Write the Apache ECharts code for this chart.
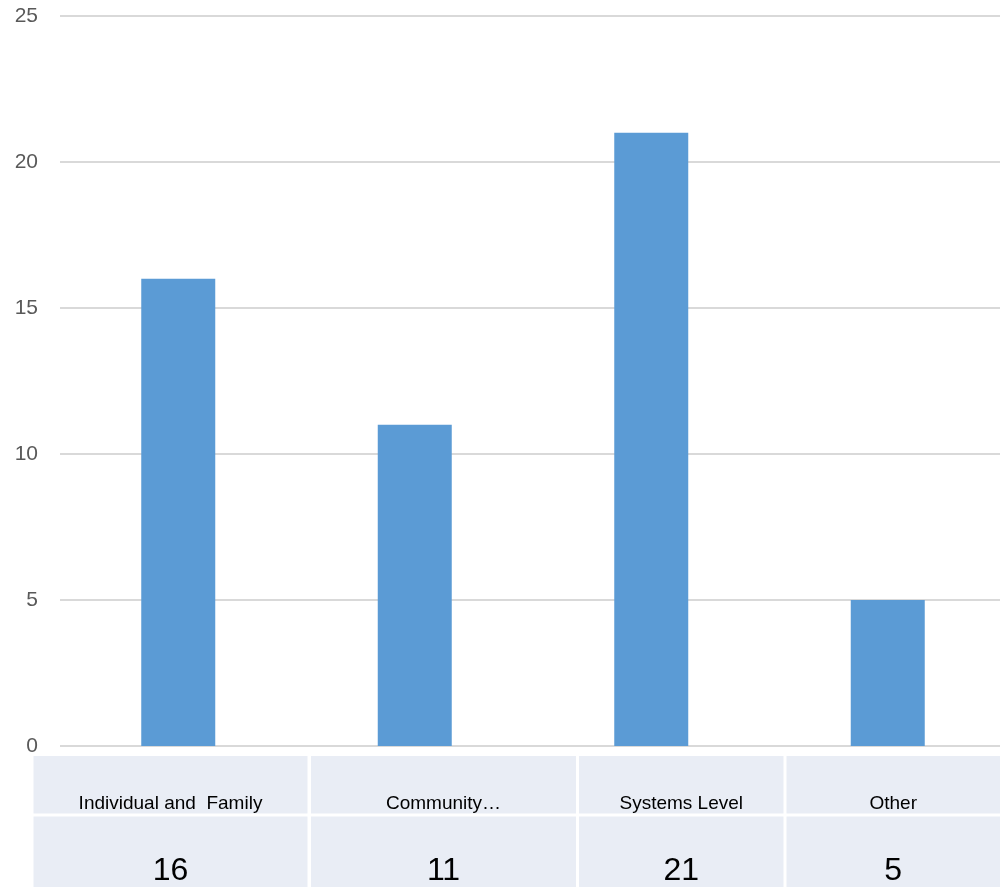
<!DOCTYPE html>
<html>
<head>
<meta charset="utf-8">
<script src="https://cdn.jsdelivr.net/npm/echarts@6/dist/echarts.min.js"></script>
<style>
html,body{margin:0;padding:0;background:#fff;overflow:hidden;width:1000px;height:887px;}
#chart{width:1006px;height:887px;}
</style>
</head>
<body>
<div id="chart"></div>
<script>
var categories = ['Individual and  Family', 'Community…', 'Systems Level', 'Other'];
var values = [16, 11, 21, 5];
var yTicks = [0, 5, 10, 15, 20, 25];

// table layout (column edges in px)
var colEdges = [[33.5, 307.5], [311, 576], [579, 783.5], [786.5, 1000]];
var row1 = {y: 756, h: 57.5};
var row2 = {y: 816.5, h: 72};
var cellColor = '#e9edf5';

var graphics = [];
colEdges.forEach(function (c, i) {
  graphics.push({type: 'rect', shape: {x: c[0], y: row1.y, width: c[1] - c[0], height: row1.h}, style: {fill: cellColor}, silent: true});
  graphics.push({type: 'rect', shape: {x: c[0], y: row2.y, width: c[1] - c[0], height: row2.h}, style: {fill: cellColor}, silent: true});
  var cx = (c[0] + c[1]) / 2;
  graphics.push({type: 'text', style: {text: categories[i], x: cx, y: 804, align: 'center', verticalAlign: 'middle', fill: '#000', font: '19px "Liberation Sans", Arial, sans-serif'}, z: 10, silent: true});
  graphics.push({type: 'text', style: {text: String(values[i]), x: cx, y: 871, align: 'center', verticalAlign: 'middle', fill: '#000', font: '32px "Liberation Sans", Arial, sans-serif'}, z: 10, silent: true});
});

var chart = echarts.init(document.getElementById('chart'), null, {renderer: 'canvas'});
chart.setOption({
  animation: false,
  backgroundColor: '#ffffff',
  grid: {left: 60, top: 16, right: 0, bottom: 141, containLabel: false},
  xAxis: {
    type: 'category',
    data: categories,
    axisLine: {show: false},
    axisTick: {show: false},
    axisLabel: {show: false},
    splitLine: {show: false}
  },
  yAxis: {
    type: 'value',
    min: yTicks[0],
    max: yTicks[yTicks.length - 1],
    interval: yTicks[1] - yTicks[0],
    axisLine: {show: false},
    axisTick: {show: false},
    axisLabel: {color: '#595959', fontSize: 21, fontFamily: '"Liberation Sans", Arial, sans-serif', margin: 22},
    splitLine: {lineStyle: {color: '#d9d9d9', width: 2}}
  },
  series: [{
    type: 'bar',
    data: values,
    barWidth: 74,
    itemStyle: {color: '#5b9bd5'}
  }],
  graphic: graphics
});
</script>
</body>
</html>
